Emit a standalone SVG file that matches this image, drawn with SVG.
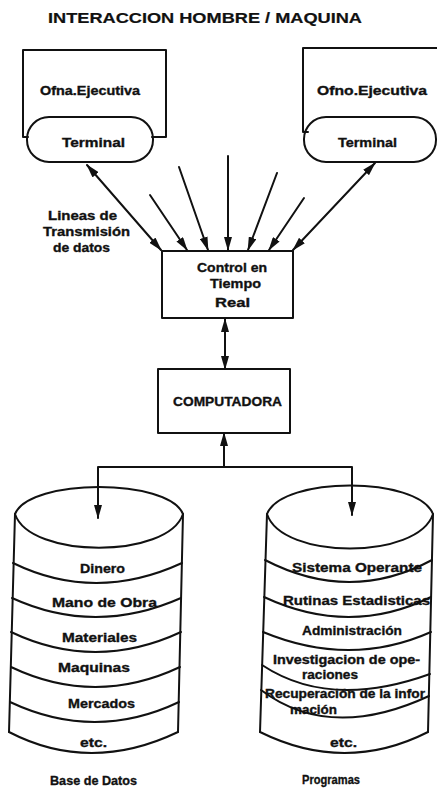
<svg xmlns="http://www.w3.org/2000/svg" width="437" height="788" viewBox="0 0 437 788">
<defs>
<style>
.ln{fill:none;stroke:#111;stroke-width:2;stroke-linejoin:round;stroke-linecap:round}
.t{font-family:"Liberation Sans","DejaVu Sans",sans-serif;font-weight:bold;fill:#111;stroke:#111;stroke-width:0.35px;font-size:13px}
.s{font-size:12px}
</style>
<marker id="ah" markerUnits="userSpaceOnUse" viewBox="0 0 14 8" refX="13" refY="4" markerWidth="14" markerHeight="8" orient="auto-start-reverse">
<path d="M0,0 L14,4 L0,8 z" fill="#111"/>
</marker>
</defs>
<rect width="437" height="788" fill="#fff"/>
<text class="t" x="48" y="23" style="font-size:15.5px;stroke-width:0.2px" textLength="314" lengthAdjust="spacingAndGlyphs">INTERACCION HOMBRE / MAQUINA</text>

<g id="ofna-left">
<path class="ln" d="M28,137 H23 V50 H166 V137 H152"/>
<text class="t" x="40" y="95" textLength="100" lengthAdjust="spacingAndGlyphs">Ofna.Ejecutiva</text>
</g>
<g id="terminal-left">
<rect class="ln" x="27" y="117" width="126" height="45" rx="22" ry="22"/>
<text class="t" x="62" y="147" textLength="63" lengthAdjust="spacingAndGlyphs">Terminal</text>
</g>
<g id="ofna-right">
<path class="ln" d="M437,48 H303 V132 H308"/>
<text class="t" x="317" y="95" textLength="110" lengthAdjust="spacingAndGlyphs">Ofno.Ejecutiva</text>
</g>
<g id="terminal-right">
<rect class="ln" x="304" y="117" width="132" height="45" rx="22" ry="22"/>
<text class="t" x="338" y="147" textLength="59" lengthAdjust="spacingAndGlyphs">Terminal</text>
</g>

<g id="label-lineas">
<text class="t" x="48" y="220" textLength="69" lengthAdjust="spacingAndGlyphs">Lineas de</text>
<text class="t" x="43" y="236" textLength="87" lengthAdjust="spacingAndGlyphs">Transmisión</text>
<text class="t" x="53" y="252" textLength="57" lengthAdjust="spacingAndGlyphs">de datos</text>
</g>

<g id="control">
<rect class="ln" x="162" y="251" width="131" height="67"/>
<text class="t" x="197" y="272" textLength="70" lengthAdjust="spacingAndGlyphs">Control en</text>
<text class="t" x="210" y="288" textLength="51" lengthAdjust="spacingAndGlyphs">Tiempo</text>
<text class="t" x="215" y="307" textLength="35" lengthAdjust="spacingAndGlyphs">Real</text>
</g>

<g id="computadora">
<rect class="ln" x="158" y="369" width="132" height="64"/>
<text class="t" x="173" y="406" textLength="109" lengthAdjust="spacingAndGlyphs">COMPUTADORA</text>
</g>

<g id="base-datos">
<path class="ln" d="M15,514 C30,478 168,478 183,514 C168,559 30,559 15,514 Z"/>
<path class="ln" d="M15,514 L9,732 M183,514 L178,732"/>
<path class="ln" d="M13,563 Q95,603 182,563 M12,598 Q95,636 181,598 M11,632 Q95,672 181,632 M11,667 Q95,707 180,667 M10,702 Q95,742 179,702 M9,732 Q90,774 178,732"/>
<text class="t" x="80" y="573" textLength="45" lengthAdjust="spacingAndGlyphs">Dinero</text>
<text class="t" x="52" y="607" textLength="105" lengthAdjust="spacingAndGlyphs">Mano de Obra</text>
<text class="t" x="62" y="642" textLength="75" lengthAdjust="spacingAndGlyphs">Materiales</text>
<text class="t" x="58" y="672" textLength="72" lengthAdjust="spacingAndGlyphs">Maquinas</text>
<text class="t" x="68" y="708" textLength="67" lengthAdjust="spacingAndGlyphs">Mercados</text>
<text class="t" x="80" y="747" textLength="27" lengthAdjust="spacingAndGlyphs">etc.</text>
<text class="t" x="50" y="785" textLength="87" lengthAdjust="spacingAndGlyphs">Base de Datos</text>
</g>

<g id="programas">
<path class="ln" d="M267,514 C282,476 418,476 433,514 C418,560 282,560 267,514 Z"/>
<path class="ln" d="M267,514 L260,732 M433,514 L428,732"/>
<path class="ln" d="M265,560 Q350,604 432,560 M264,597 Q350,637 431,597 M263,632 Q350,668 431,632 M262,665 Q330,710 430,674 M261,690 Q330,742 429,696 M260,732 Q345,774 428,732"/>
<text class="t" x="292" y="572" textLength="130" lengthAdjust="spacingAndGlyphs">Sistema Operante</text>
<text class="t" x="283" y="605" textLength="147" lengthAdjust="spacingAndGlyphs">Rutinas Estadisticas</text>
<text class="t" x="302" y="635" textLength="100" lengthAdjust="spacingAndGlyphs">Administración</text>
<text class="t s" x="273" y="664" textLength="147" lengthAdjust="spacingAndGlyphs">Investigacion de ope-</text>
<text class="t s" x="302" y="679" textLength="56" lengthAdjust="spacingAndGlyphs">raciones</text>
<text class="t s" x="265" y="698" textLength="160" lengthAdjust="spacingAndGlyphs">Recuperación de la infor</text>
<text class="t s" x="290" y="714" textLength="47" lengthAdjust="spacingAndGlyphs">mación</text>
<text class="t" x="330" y="747" textLength="27" lengthAdjust="spacingAndGlyphs">etc.</text>
<text class="t" x="302" y="784" textLength="58" lengthAdjust="spacingAndGlyphs">Programas</text>
</g>

<g id="connectors">
<line class="ln" x1="87" y1="165" x2="161" y2="250" marker-start="url(#ah)" marker-end="url(#ah)"/>
<line class="ln" x1="150" y1="195" x2="187" y2="250" marker-end="url(#ah)"/>
<line class="ln" x1="179" y1="167" x2="208" y2="250" marker-end="url(#ah)"/>
<line class="ln" x1="228" y1="156" x2="228" y2="250" marker-end="url(#ah)"/>
<line class="ln" x1="277" y1="173" x2="248" y2="250" marker-end="url(#ah)"/>
<line class="ln" x1="304" y1="198" x2="269" y2="250" marker-end="url(#ah)"/>
<line class="ln" x1="375" y1="163" x2="293" y2="250" marker-start="url(#ah)" marker-end="url(#ah)"/>
<line class="ln" x1="225" y1="319" x2="225" y2="369" marker-start="url(#ah)" marker-end="url(#ah)"/>
<line class="ln" x1="224" y1="467" x2="224" y2="433" marker-end="url(#ah)"/>
<path class="ln" d="M98,518 V467 H352 V515" marker-start="url(#ah)" marker-end="url(#ah)"/>
</g>
</svg>
